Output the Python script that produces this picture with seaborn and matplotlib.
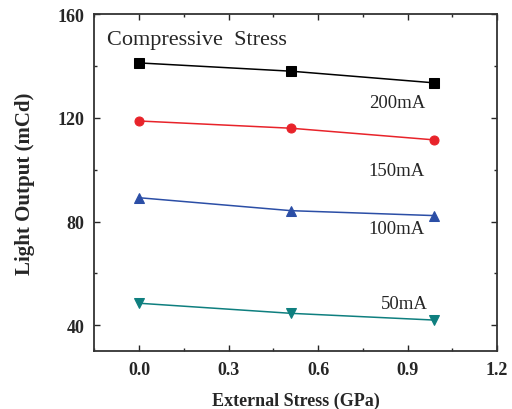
import pandas as pd
import matplotlib
matplotlib.use("Agg")
import matplotlib.pyplot as plt
import seaborn as sns
from matplotlib.ticker import MultipleLocator

# values
stress = [0.0, 0.51, 0.99]
out_200 = [141.2, 138.0, 133.5]
out_150 = [118.8, 116.0, 111.5]
out_100 = [89.2, 84.2, 82.3]
out_50 = [48.5, 44.6, 42.0]
currents = ["200mA", "150mA", "100mA", "50mA"]

series = {"200mA": out_200, "150mA": out_150, "100mA": out_100, "50mA": out_50}
styles = {
    "200mA": ("black", "s"),
    "150mA": ("#e8232a", "o"),
    "100mA": ("#2b4ea6", "^"),
    "50mA": ("#0e7f7f", "v"),
}
label_pos = {"200mA": (0.77, 125.8), "150mA": (0.77, 99.6),
             "100mA": (0.77, 77.3), "50mA": (0.81, 48.5)}

sns.set_style("ticks")
plt.rcParams['font.family'] = ['Liberation Serif', 'DejaVu Serif']

fig = plt.figure(figsize=(5.12, 4.1), dpi=100)
ax = fig.add_axes([0.184, 0.141, 0.787, 0.822])

for cur in currents:
    df = pd.DataFrame({"x": stress, "y": series[cur]})
    color, marker = styles[cur]
    sns.lineplot(data=df, x="x", y="y", ax=ax, color=color, marker=marker,
                 markersize=6.5, markeredgecolor=color, linewidth=1.1)
    tx, ty = label_pos[cur]
    ax.text(tx, ty, cur, fontsize=13.5, va="center", ha="left")

ax.text(-0.107, 150.4, "Compressive  Stress", fontsize=16, va="center", ha="left")

ax.set_xlim(-0.15, 1.2)
ax.set_ylim(30, 160)
ax.xaxis.set_minor_locator(MultipleLocator(0.15))
ax.yaxis.set_minor_locator(MultipleLocator(20))
ax.set_xticks([0.0, 0.3, 0.6, 0.9, 1.2])
ax.set_xticklabels(["0.0", "0.3", "0.6", "0.9", "1.2"])
ax.set_yticks([40, 80, 120, 160])
ax.tick_params(which="both", direction="in", top=True, right=True, labelsize=13)
ax.tick_params(which="major", length=4, width=1, pad=7)
ax.tick_params(which="minor", length=2.5, width=1)
for lbl in ax.get_xticklabels() + ax.get_yticklabels():
    lbl.set_fontweight("bold")
for sp in ax.spines.values():
    sp.set_linewidth(1.3)
    sp.set_color("#333333")

ax.set_xlabel("External Stress (GPa)", fontsize=13, fontweight="bold", labelpad=10)
ax.set_ylabel("Light Output (mCd)", fontsize=15, fontweight="bold")
ax.yaxis.set_label_coords(-0.148, 0.5)

fig.savefig("out.png", dpi=100)
